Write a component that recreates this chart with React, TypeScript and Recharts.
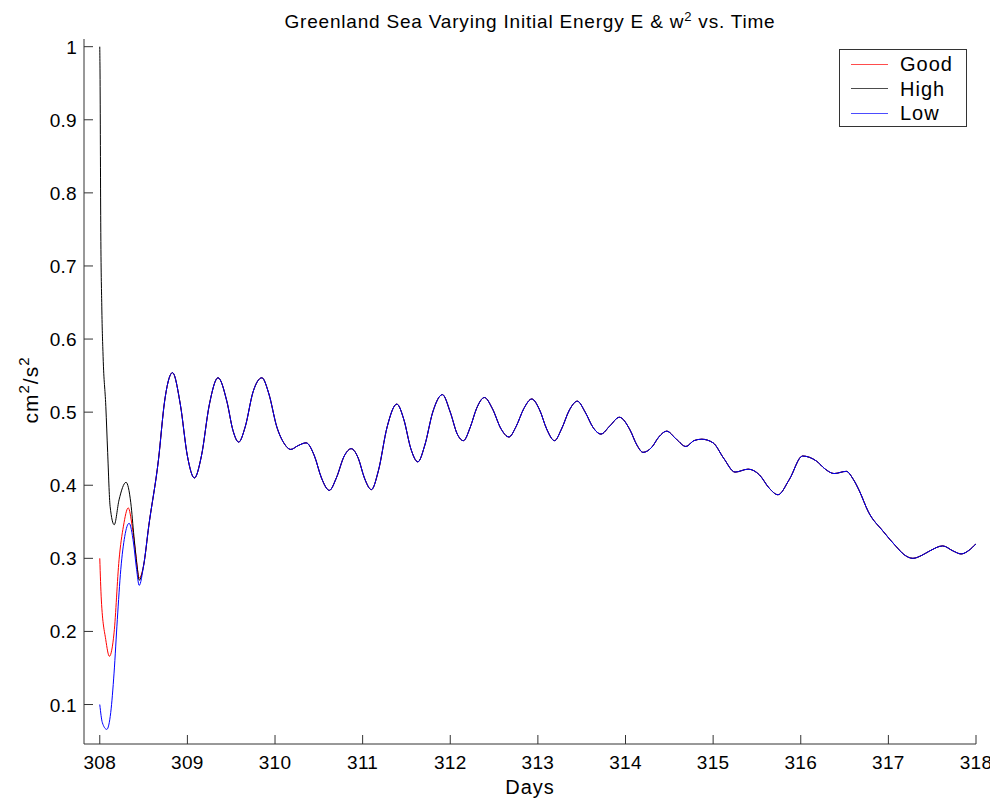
import React from "react";
import { LineChart, Line, XAxis, YAxis } from "recharts";

// shared part of the curve (all three runs collapse onto it after ~308.5)
const commonDays = [
  308.5, 308.56, 308.67, 308.74, 308.83, 308.92, 309.0, 309.08, 309.16, 309.25,
  309.35, 309.45, 309.52, 309.585, 309.66, 309.75, 309.85, 309.93, 310.02, 310.1,
  310.18, 310.26, 310.355, 310.45, 310.53, 310.62, 310.7, 310.79, 310.87, 310.95,
  311.02, 311.1, 311.18, 311.28, 311.39, 311.47, 311.55, 311.63, 311.71, 311.8,
  311.91, 312.0, 312.08, 312.15, 312.23, 312.3, 312.39, 312.48, 312.58, 312.67,
  312.75, 312.84, 312.93, 313.02, 313.1, 313.19, 313.27, 313.36, 313.45, 313.54,
  313.63, 313.72, 313.82, 313.93, 314.05, 314.13, 314.2, 314.3, 314.38, 314.47,
  314.58, 314.69, 314.78, 314.87, 315.0, 315.12, 315.25, 315.4, 315.53, 315.64,
  315.74, 315.87, 316.02, 316.18, 316.28, 316.38, 316.52, 316.6, 316.67, 316.77,
  316.94, 317.09, 317.18, 317.28, 317.38, 317.47, 317.62, 317.74, 317.83, 317.92,
  318.0,
];
const commonValues = [
  0.29, 0.345, 0.435, 0.515, 0.554, 0.51, 0.44, 0.41, 0.44, 0.51,
  0.547, 0.515, 0.475, 0.459, 0.48, 0.528, 0.547, 0.525, 0.48, 0.458,
  0.449, 0.454, 0.458, 0.44, 0.41, 0.393, 0.41, 0.44, 0.45, 0.437,
  0.41, 0.394, 0.42, 0.48, 0.511, 0.49, 0.45, 0.432, 0.455, 0.5,
  0.524, 0.5, 0.47, 0.461, 0.48, 0.505, 0.52, 0.505, 0.477, 0.466,
  0.48, 0.505, 0.518, 0.503, 0.477, 0.461, 0.477, 0.503, 0.515, 0.5,
  0.479, 0.47, 0.481, 0.493, 0.476, 0.455, 0.445, 0.452, 0.466, 0.474,
  0.463, 0.453, 0.461, 0.463, 0.458, 0.437, 0.418, 0.422, 0.414, 0.396,
  0.387, 0.408, 0.44, 0.433, 0.422, 0.416, 0.419, 0.408, 0.392, 0.364,
  0.337, 0.316, 0.305, 0.3, 0.304, 0.31, 0.317, 0.31, 0.306, 0.311,
  0.32,
];

// start of each run
const goodDays = [308.0, 308.018, 308.068, 308.11, 308.163, 308.22, 308.27, 308.325, 308.37, 308.41, 308.45];
const goodValues = [0.3, 0.243, 0.189, 0.166, 0.198, 0.298, 0.344, 0.369, 0.344, 0.307, 0.273];

const highDays = [308.0, 308.003, 308.011, 308.023, 308.038, 308.069, 308.09, 308.118, 308.165, 308.22, 308.3, 308.354, 308.39, 308.43, 308.45];
const highValues = [1.0, 0.964, 0.759, 0.645, 0.576, 0.508, 0.445, 0.371, 0.346, 0.38, 0.404, 0.376, 0.33, 0.285, 0.27];

const lowDays = [308.0, 308.03, 308.08, 308.125, 308.163, 308.2, 308.24, 308.285, 308.335, 308.385, 308.42, 308.45];
const lowValues = [0.1, 0.075, 0.066, 0.089, 0.143, 0.216, 0.285, 0.33, 0.348, 0.321, 0.285, 0.263];

const xTicks = [308, 309, 310, 311, 312, 313, 314, 315, 316, 317, 318];
const yTicks = [0.1, 0.2, 0.3, 0.4, 0.5, 0.6, 0.7, 0.8, 0.9, 1];

const series = [
  { name: "Good", color: "#ff0000", days: goodDays, values: goodValues },
  { name: "High", color: "#000000", days: highDays, values: highValues },
  { name: "Low", color: "#0000ff", days: lowDays, values: lowValues },
];

const build = (days: number[], values: number[]) =>
  days
    .map((d, i) => ({ day: d, value: values[i] }))
    .concat(commonDays.map((d, i) => ({ day: d, value: commonValues[i] })));

const FONT = "'Liberation Sans', Arial, Helvetica, sans-serif";

const YTick = (props: any) => {
  const { x, y, payload } = props;
  const v = payload.value;
  return (
    <g>
      <line x1={x} x2={x + 9} y1={y} y2={y} stroke="#333" />
      <text x={x - 7} y={y + 7} textAnchor="end" fontSize={19} letterSpacing={0.3} fill="#000" fontFamily={FONT}>
        {v === 1 ? "1" : v.toFixed(1)}
      </text>
    </g>
  );
};

const XTick = (props: any) => {
  const { x, y, payload } = props;
  return (
    <g>
      <line x1={x} x2={x} y1={y} y2={y - 9} stroke="#333" />
      <text x={x} y={y + 25} textAnchor="middle" fontSize={19} letterSpacing={0.3} fill="#000" fontFamily={FONT}>
        {payload.value}
      </text>
    </g>
  );
};

export default function App() {
  return (
    <div style={{ position: "relative", width: 990, height: 790, fontFamily: FONT }}>
      <LineChart width={990} height={790} margin={{ top: 31, right: 22, left: 0, bottom: 0 }}>
        <XAxis
          type="number"
          dataKey="day"
          domain={[307.82, 318]}
          ticks={xTicks}
          allowDataOverflow
          height={54}
          tickSize={0}
          tickMargin={0}
          tickLine={false}
          tick={<XTick />}
          axisLine={{ stroke: "#333" }}
        />
        <YAxis
          type="number"
          dataKey="value"
          domain={[0.046, 1.0105]}
          ticks={yTicks}
          allowDataOverflow
          width={76}
          tickSize={0}
          tickMargin={0}
          tickLine={false}
          tick={<YTick />}
          axisLine={{ stroke: "#333" }}
        />
        {series.map((s) => (
          <Line
            key={s.name}
            data={build(s.days, s.values)}
            dataKey="value"
            name={s.name}
            type="monotone"
            stroke={s.color}
            strokeWidth={1}
            dot={false}
            activeDot={false}
            isAnimationActive={false}
          />
        ))}
        <text x={522} y={20} textAnchor="middle" fontSize={19} letterSpacing={0.8} fill="#000" fontFamily={FONT}>
          Greenland Sea Varying Initial Energy E &amp; w
          <tspan fontSize={13} dy={-7}>2</tspan>
          <tspan dy={7}> vs. Time</tspan>
        </text>
        <text x={522} y={786} textAnchor="middle" fontSize={20} letterSpacing={1} fill="#000" fontFamily={FONT}>
          Days
        </text>
        <text
          transform="translate(30, 382) rotate(-90)"
          textAnchor="middle"
          fontSize={21}
          letterSpacing={1}
          fill="#000"
          fontFamily={FONT}
        >
          cm<tspan fontSize={15} dy={-9}>2</tspan>
          <tspan dy={9}>/s</tspan>
          <tspan fontSize={15} dy={-9}>2</tspan>
        </text>
      </LineChart>
      <div
        style={{
          position: "absolute",
          left: 831,
          top: 41,
          width: 126,
          height: 76,
          border: "1px solid #333",
          background: "#fff",
          fontSize: 20,
          letterSpacing: 1,
          color: "#000",
        }}
      >
        {series.map((s, i) => (
          <div
            key={s.name}
            style={{ position: "absolute", left: 0, top: 3 + i * 24.5, height: 22, display: "flex", alignItems: "center" }}
          >
            <div style={{ width: 37, height: 0, borderTop: `1px solid ${s.color}`, marginLeft: 11, opacity: 0.7 }} />
            <span style={{ marginLeft: 12, lineHeight: "22px" }}>{s.name}</span>
          </div>
        ))}
      </div>
    </div>
  );
}
